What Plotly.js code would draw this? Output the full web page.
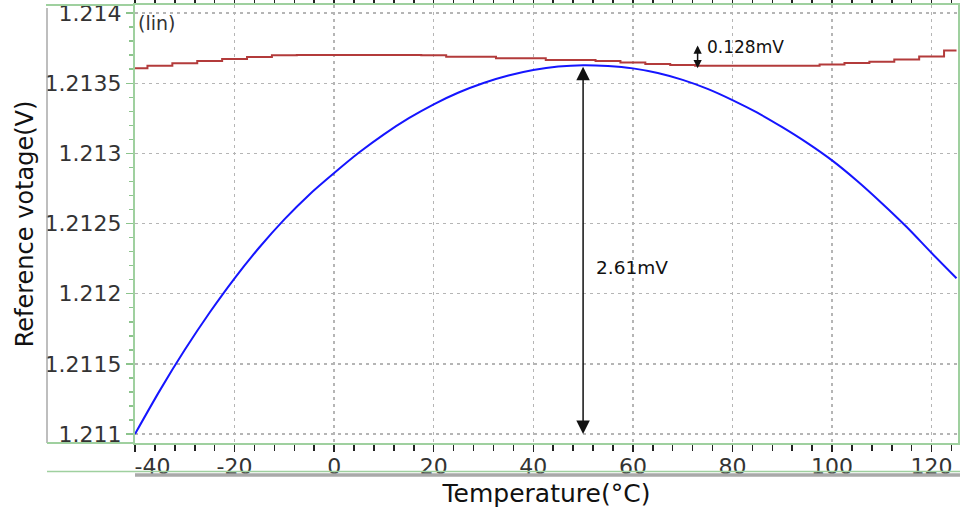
<!DOCTYPE html>
<html>
<head>
<meta charset="utf-8">
<script src="https://cdn.plot.ly/plotly-3.0.1.min.js"></script>
<style>html,body{margin:0;padding:0;background:#fff;}#chart{width:961px;height:516px;}</style>
</head>
<body>
<div id="chart"></div>
<script>
// ---- data ----
const temps = [-40,-35,-30,-25,-20,-15,-10,-5,0,5,10,15,20,25,30,35,40,45,50,55,60,65,70,75,80,85,90,95,100,105,110,115,120,125];
const vrefBlue = [1.211000,1.211311,1.211600,1.211866,1.212110,1.212331,1.212530,1.212706,1.212860,1.213006,1.213136,1.213251,1.213350,1.213434,1.213502,1.213555,1.213594,1.213619,1.213629,1.213623,1.213606,1.213573,1.213524,1.213460,1.213380,1.213290,1.213187,1.213075,1.212950,1.212805,1.212645,1.212475,1.212290,1.212110];
const vrefRed = [1.213607,1.213625,1.213642,1.213659,1.213673,1.213687,1.213700,1.213701,1.213701,1.213701,1.213701,1.213701,1.213700,1.213689,1.213689,1.213678,1.213678,1.213666,1.213666,1.213659,1.213647,1.213637,1.213630,1.213625,1.213625,1.213625,1.213625,1.213625,1.213634,1.213644,1.213654,1.213669,1.213691,1.213733];
const xTickVals = [-40,-20,0,20,40,60,80,100,120];
const xTickText = ["\u00a0\u00a0\u00a0\u00a0\u00a0-40","-20","0","20","40","60","80","100","120"];
const yTickVals = [1.211,1.2115,1.212,1.2125,1.213,1.2135,1.214];
const yTickText = ["1.211","1.2115","1.212","1.2125","1.213","1.2135","1.214"];
const bigLabel = "2.61mV";
const smallLabel = "0.128mV";
const smallArrowT = 73;
const smallArrowTop = 1.21378;

// ---- derived ----
const peakIdx = vrefBlue.indexOf(Math.max(...vrefBlue));
const peakT = temps[peakIdx];
const peakV = vrefBlue[peakIdx];
const redMin = Math.min(...vrefRed);

const FONT = "DejaVu Sans, Verdana, sans-serif";
const GREEN = "#9fd09f";
const GRAY = "#a9a9a9";

const traces = [
  {x: temps, y: vrefRed, type: "scatter", mode: "lines",
   line: {color: "#b33b3b", width: 2, shape: "hvh"}, hoverinfo: "skip"},
  {x: temps, y: vrefBlue, type: "scatter", mode: "lines",
   line: {color: "#1515ff", width: 2, shape: "spline", smoothing: 0.8}, hoverinfo: "skip"}
];

const pxX = v => (v - 135) / 823;      // helper for frame decorations
const pxY = v => (443 - v) / 438;

const layout = {
  width: 961, height: 516,
  margin: {l: 135, r: 3, t: 5, b: 73},
  paper_bgcolor: "#fff", plot_bgcolor: "#fff",
  showlegend: false,
  font: {family: FONT, color: "#222"},
  xaxis: {
    range: [-40, 125.3],
    tickmode: "array", tickvals: xTickVals, ticktext: xTickText,
    ticks: "outside", ticklen: 7, tickwidth: 1.5, tickcolor: "#222",
    minor: {tickmode: "linear", tick0: -40, dtick: 4, ticks: "outside", ticklen: 6, tickwidth: 1.5, tickcolor: "#222", showgrid: false},
    showgrid: true, gridcolor: "#b5b5b5", gridwidth: 1.5, griddash: "3px,4px",
    showline: true, linecolor: GREEN, linewidth: 2, mirror: "ticks",
    zeroline: false,
    ticklabelstandoff: -4,
    tickfont: {family: FONT, size: 22, color: "#333"},
    title: {text: "Temperature(°C)", font: {family: FONT, size: 25, color: "#111"}, standoff: 0}
  },
  yaxis: {
    range: [1.2109359, 1.2140577],
    tickmode: "array", tickvals: yTickVals, ticktext: yTickText,
    ticks: "outside", ticklen: 7, tickwidth: 1.5, tickcolor: "#8cc48c",
    minor: {tickmode: "linear", tick0: 1.211, dtick: 0.0001, ticks: "outside", ticklen: 4, tickwidth: 1.5, tickcolor: "#8cc48c", showgrid: false},
    showgrid: true, gridcolor: "#b5b5b5", gridwidth: 1.5, griddash: "3px,4px",
    showline: true, linecolor: GREEN, linewidth: 2, mirror: true,
    zeroline: false,
    tickfont: {family: FONT, size: 22, color: "#333"},
    title: {text: "Reference votage(V)", font: {family: FONT, size: 24, color: "#111"}, standoff: 4}
  },
  shapes: [
    {type: "line", xref: "paper", yref: "paper", x0: pxX(47), x1: pxX(47), y0: pxY(443), y1: pxY(8), line: {color: GRAY, width: 1.5}},
    {type: "line", xref: "paper", yref: "paper", x0: pxX(46), x1: 0, y0: 1, y1: 1, line: {color: GREEN, width: 2}},
    {type: "line", xref: "paper", yref: "paper", x0: pxX(47), x1: 0, y0: 0, y1: 0, line: {color: GREEN, width: 2}},
    {type: "line", xref: "paper", yref: "paper", x0: pxX(47), x1: pxX(960), y0: pxY(471.5), y1: pxY(471.5), line: {color: GREEN, width: 1.5}},
    {type: "line", xref: "paper", yref: "paper", x0: 0, x1: pxX(960), y0: pxY(475), y1: pxY(475), line: {color: GRAY, width: 3.5}}
  ],
  annotations: [
    {xref: "paper", yref: "paper", x: pxX(136), y: pxY(23), xanchor: "left", yanchor: "middle",
     text: "(lin)", showarrow: false, font: {family: FONT, size: 19, color: "#333"}},
    {xref: "x", yref: "y", x: peakT, y: 1.211, axref: "x", ayref: "y", ax: peakT, ay: peakV,
     text: "", showarrow: true, arrowside: "end+start", arrowhead: 2, startarrowhead: 2,
     arrowsize: 1.8, startarrowsize: 1.8, arrowwidth: 1.5, arrowcolor: "#111", standoff: 0, startstandoff: 0},
    {xref: "x", yref: "y", x: peakT + 2.2, y: 1.21219, xanchor: "left", yanchor: "middle",
     text: bigLabel, showarrow: false, font: {family: FONT, size: 18.5, color: "#111"}},
    {xref: "x", yref: "y", x: smallArrowT, y: redMin, axref: "x", ayref: "y", ax: smallArrowT, ay: smallArrowTop,
     text: "", showarrow: true, arrowside: "end+start", arrowhead: 2, startarrowhead: 2,
     arrowsize: 1.1, startarrowsize: 1.1, arrowwidth: 1.5, arrowcolor: "#111", standoff: 0, startstandoff: 0},
    {xref: "x", yref: "y", x: smallArrowT + 1.5, y: 1.213758, xanchor: "left", yanchor: "middle",
     text: smallLabel, showarrow: false, font: {family: FONT, size: 17, color: "#111"}}
  ]
};

Plotly.newPlot("chart", traces, layout, {staticPlot: true, displayModeBar: false});
</script>
</body>
</html>
